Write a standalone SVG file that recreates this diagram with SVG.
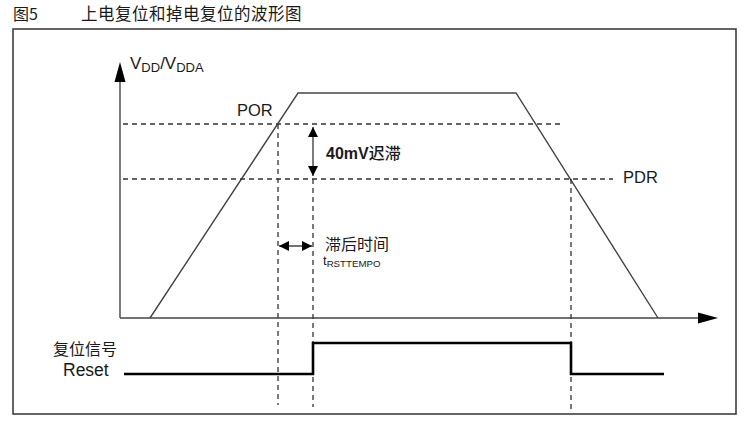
<svg xmlns="http://www.w3.org/2000/svg" width="747" height="423" viewBox="0 0 747 423">
<defs>
<style>
.t{font-family:"Liberation Sans","Noto Sans CJK SC",sans-serif;fill:#1a1a1a}
.cjk{font-family:"Noto Sans CJK SC","Liberation Sans",sans-serif;fill:#1a1a1a}
.ln{stroke:#444;stroke-width:1.4;fill:none}
.dash{stroke:#333;stroke-width:1.3;stroke-dasharray:5 4;fill:none}
.sig{stroke:#000;stroke-width:2.6;fill:none}
.ah{fill:#000}
</style>
<marker id="arr" viewBox="0 0 10 10" refX="10" refY="5" markerWidth="10" markerHeight="10" markerUnits="userSpaceOnUse" orient="auto-start-reverse">
<path d="M0,0 L10,5 L0,10 Z" fill="#000"/>
</marker>
</defs>
<rect width="747" height="423" fill="#fff"/>
<g id="title">
<text class="cjk" x="13" y="20" font-size="16" fill="#333">图5</text>
<text class="cjk" x="81" y="20" font-size="16.5" letter-spacing="0.5" fill="#333">上电复位和掉电复位的波形图</text>
</g>
<rect id="frame" x="13" y="29" width="723" height="385" fill="none" stroke="#333" stroke-width="1.5"/>
<g id="axes">
<line class="ln" x1="120" y1="78" x2="120" y2="318"/>
<polygon class="ah" points="120,62 114.5,82 125.5,82"/>
<line class="ln" x1="120" y1="318" x2="700" y2="318"/>
<polygon class="ah" points="718,318 698,312.5 698,323.5"/>
<text class="t" x="130" y="69" font-size="17">V<tspan font-size="13" dy="3">DD</tspan><tspan dy="-3">/V</tspan><tspan font-size="13" dy="3">DDA</tspan></text>
</g>
<g id="waveform">
<polyline class="ln" points="150,318 298,93 516,93 658,318"/>
</g>
<g id="thresholds">
<line class="dash" x1="123" y1="124" x2="563" y2="124"/>
<line class="dash" x1="123" y1="179" x2="613" y2="179"/>
<text class="t" x="237" y="116" font-size="16.5">POR</text>
<text class="t" x="623" y="183" font-size="16.5">PDR</text>
</g>
<g id="connectors">
<line class="dash" x1="278" y1="124" x2="278" y2="405"/>
<line class="dash" x1="313" y1="179" x2="313" y2="407"/>
<line class="dash" x1="571" y1="179" x2="571" y2="410"/>
<line class="ln" x1="313" y1="127" x2="313" y2="176" stroke="#000" marker-start="url(#arr)" marker-end="url(#arr)"/>
<line class="ln" x1="279" y1="246" x2="312" y2="246" stroke="#000" marker-start="url(#arr)" marker-end="url(#arr)"/>
</g>
<g id="hysteresis-label">
<text class="t" x="326" y="159" font-size="16" font-weight="bold">40mV<tspan class="cjk" font-weight="500">迟滞</tspan></text>
</g>
<g id="delay-label">
<text class="cjk" x="325" y="250" font-size="16">滞后时间</text>
<text class="t" x="323" y="265" font-size="13">t<tspan font-size="9.7" dy="2">RSTTEMPO</tspan></text>
</g>
<g id="reset">
<text class="cjk" x="53" y="355" font-size="16">复位信号</text>
<text class="t" x="63" y="376" font-size="17.5">Reset</text>
<polyline class="sig" points="124,374 313,374 313,343 571,343 571,374 664,374"/>
</g>
</svg>
